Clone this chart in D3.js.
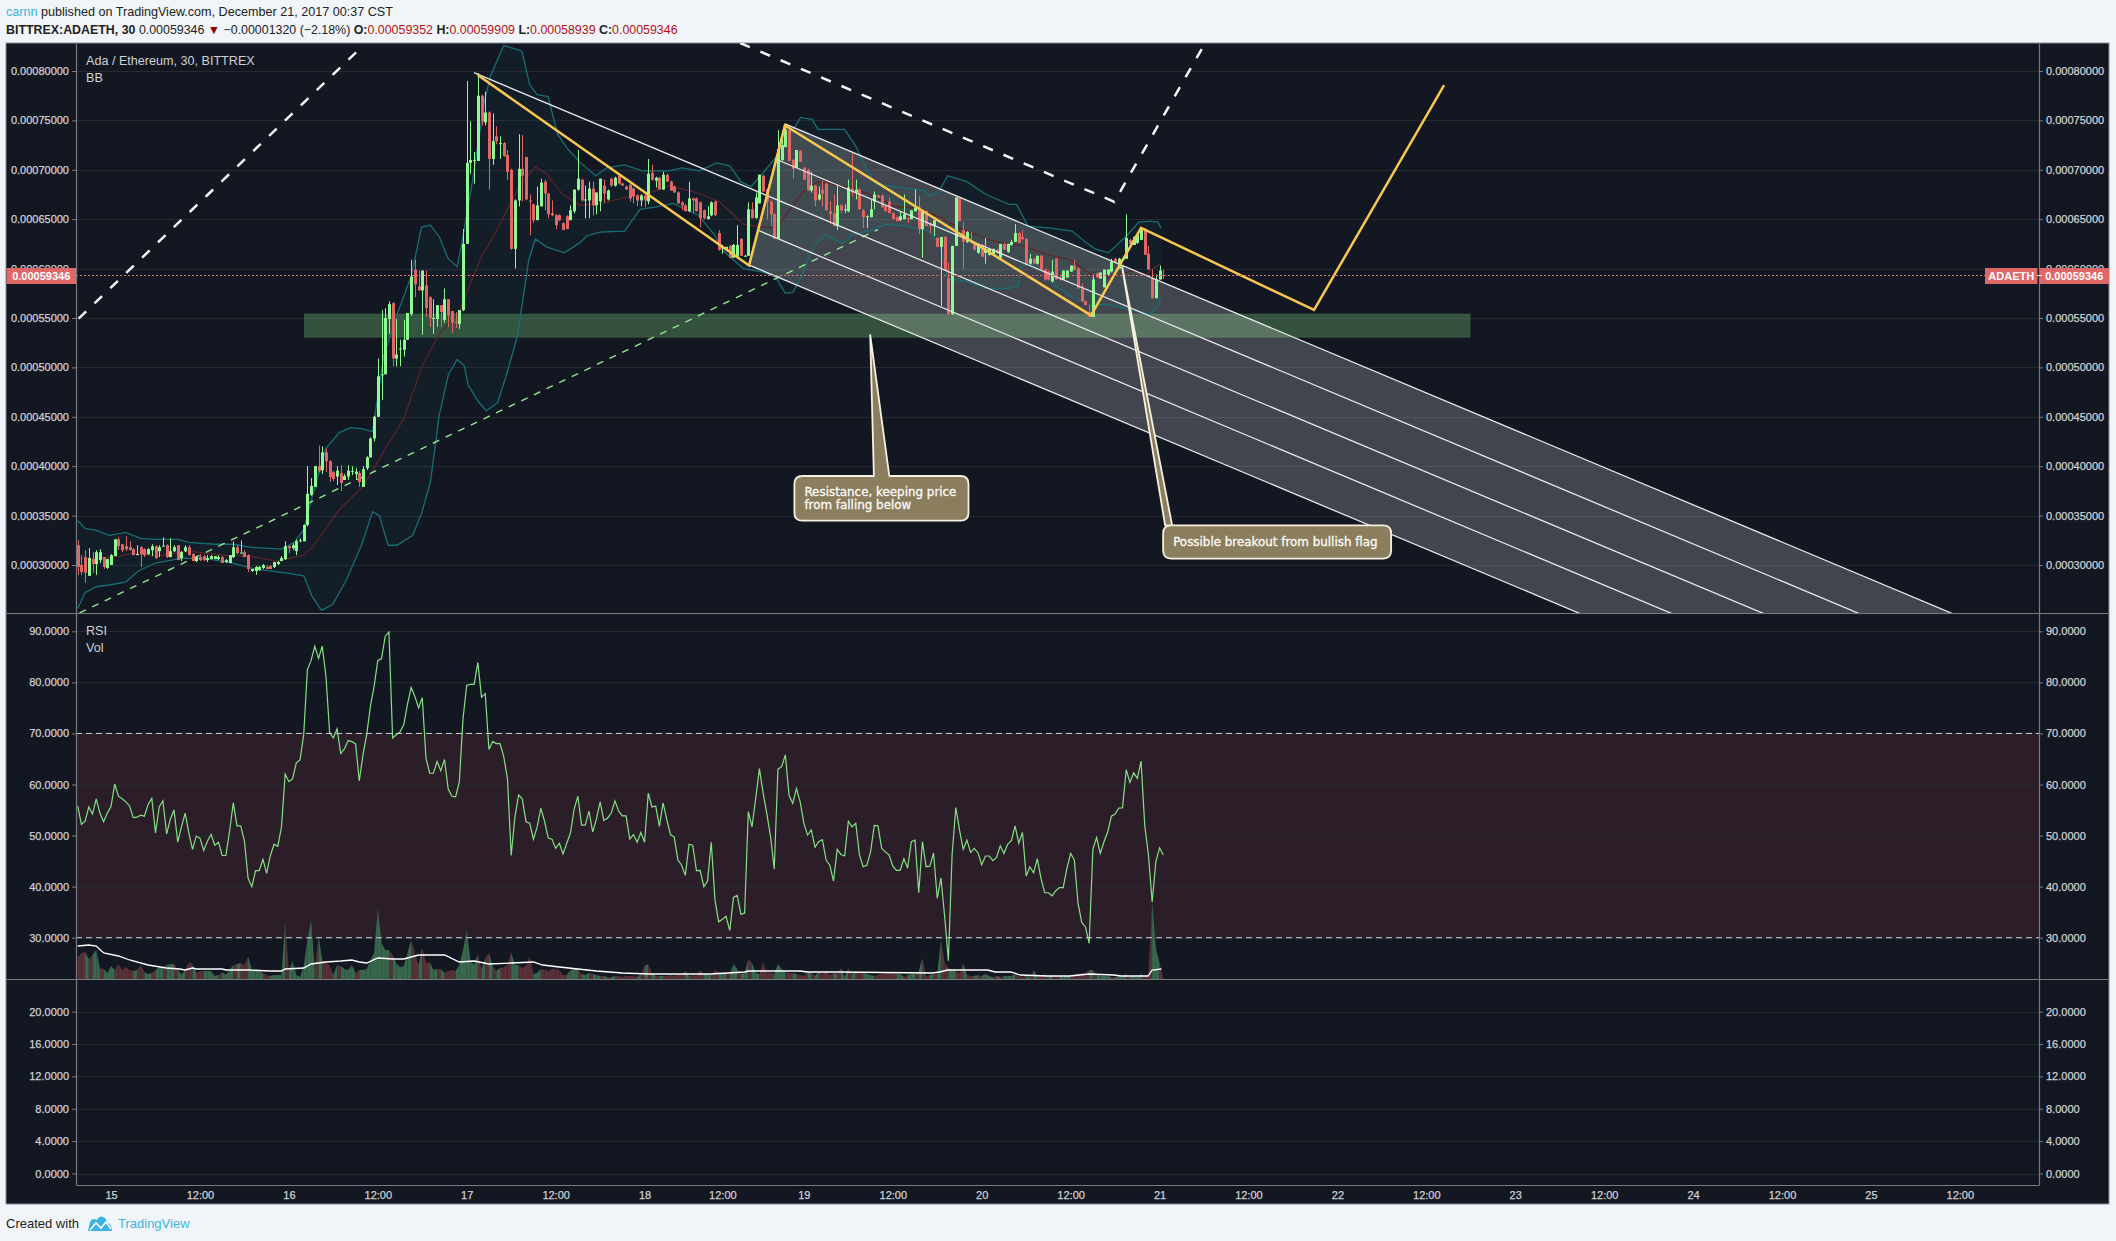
<!DOCTYPE html>
<html><head><meta charset="utf-8">
<script src="https://cdnjs.cloudflare.com/ajax/libs/d3/7.8.5/d3.min.js"></script>
<style>html,body{margin:0;padding:0;background:#f1f5f9;overflow:hidden}svg{display:block}text{font-family:"Liberation Sans",Arial,sans-serif}</style>
</head><body><svg id="c" width="2116" height="1241"></svg>
<script>
// ===== DATA (prices in units of 0.00001 ETH) =====
const priceTicks=[30,35,40,45,50,55,60,65,70,75,80];
const rsiTicks=[30,40,50,60,70,80,90];
const lowerTicks=[0,4,8,12,16,20];
const timeTickBars=[9,33,57,81,105,129,153,174,196,220,244,268,292,316,340,364,388,412,436,460,484,508];
const timeTickLabels=["15","12:00","16","12:00","17","12:00","18","12:00","19","12:00","20","12:00","21","12:00","22","12:00","23","12:00","24","12:00","25","12:00"];
const lastPrice=59.346;
// candles [open, high, low, close]
const barsDec14=[[32.0,32.5,29.0,29.8],[30.0,31.0,29.0,29.3],[30.8,31.5,28.2,29.2],[28.9,31.7,28.9,30.7],[30.6,31.3,29.2,30.1],
[30.1,31.5,29.0,31.3],[30.5,31.6,30.2,31.3],[30.8,30.8,29.6,29.8],[29.7,30.6,29.6,30.6],[30.0,31.1,30.0,31.0]];
const barsDec15=[[30.9,32.6,30.9,32.6],[32.6,32.8,31.5,31.9],[32.1,32.1,31.3,31.5],[31.9,32.9,31.4,31.6],[31.8,32.4,31.5,31.5],
[31.6,31.7,31.0,31.0],[31.0,32.0,31.0,31.1],[31.8,31.9,29.8,31.1],[31.6,31.7,30.8,31.0],[31.1,31.7,31.0,31.6],
[31.5,32.1,30.9,31.9],[31.9,32.0,30.6,30.7],[31.4,32.0,30.8,31.8],[31.9,32.8,31.9,31.95],[32.0,32.1,30.7,30.8],
[30.8,32.7,30.8,31.4],[31.4,32.0,31.3,31.8],[32.0,32.0,30.5,30.5],[30.7,31.4,30.4,31.3],[31.4,32.0,31.3,31.8],
[31.8,32.0,31.0,31.0],[31.1,31.2,30.4,30.4],[30.4,30.9,30.3,30.8],[30.8,31.1,30.4,30.5],[30.9,31.0,30.4,30.5],
[30.5,31.0,30.3,30.7],[30.6,31.0,30.6,30.9],[30.6,30.9,30.6,30.9],[30.6,31.0,30.5,30.8],[30.8,30.9,30.2,30.2],
[30.3,30.6,30.2,30.5],[30.2,31.0,30.2,31.0],[30.8,32.4,30.7,31.8],[31.8,32.0,31.1,31.2],[31.2,32.5,31.2,31.25],
[31.3,31.5,30.8,30.8],[31.0,31.1,29.3,29.6],[29.4,29.6,29.3,29.6],[29.4,29.9,29.0,29.8],[29.5,29.9,29.4,29.8],
[29.7,30.1,29.6,30.0],[29.8,30.0,29.6,29.6],[29.9,30.0,29.6,29.6],[29.8,30.3,29.7,30.3],[30.1,30.4,30.0,30.3],
[30.4,30.9,30.4,30.7],[30.6,32.4,30.5,31.9]];
const barsDec16=[[31.9,32.0,31.2,31.7],[31.7,32.2,31.5,32.0],[31.4,32.6,31.0,32.4],[32.4,32.7,32.3,32.5],[32.4,34.1,32.4,34.05],
[34.05,40.0,33.9,37.2],[37.1,38.8,37.0,38.0],[37.9,40.0,37.9,40.0],[40.0,42.1,39.4,39.5],[39.6,42.0,39.2,41.4],
[41.4,41.8,39.4,40.5],[40.5,40.6,38.4,38.9],[39.4,39.5,38.5,38.7],[38.95,40.0,38.1,39.55],[39.3,40.1,37.5,38.3],
[38.6,39.2,38.6,39.0],[38.95,40.1,38.6,39.55],[39.4,40.0,39.1,39.5],[39.2,39.8,38.6,39.45],[39.3,39.5,37.9,38.4],
[37.9,40.0,37.9,39.7],[39.8,41.0,39.6,40.9],[40.9,42.9,40.9,42.8],[42.8,45.1,42.5,45.0],[45.0,50.9,45.0,49.1],
[49.2,55.8,46.7,49.3],[49.3,56.0,49.3,55.0],[54.9,56.7,53.4,56.4],[56.5,56.6,50.1,50.9],[50.9,54.9,50.1,51.3],
[51.8,52.8,50.1,51.9],[51.8,54.8,51.1,52.8],[52.8,55.5,52.8,55.5],[55.4,60.9,55.2,59.2],[59.9,60.9,57.1,58.4],
[58.2,59.8,57.8,57.8],[57.8,59.8,53.3,59.8],[58.3,59.8,55.1,56.0],[57.1,57.2,54.1,55.0],[55.0,56.9,53.4,55.0],
[54.9,56.3,54.1,56.3],[56.3,56.3,54.1,55.6],[54.8,58.0,54.5,56.9],[56.9,56.9,54.1,55.3],[55.7,55.7,53.5,54.5],
[54.6,55.6,54.0,54.5],[54.4,55.8,53.9,55.8]];
const barsDec17=[[55.8,64.0,55.7,62.5],[62.5,79.0,62.5,70.7],[70.7,74.9,69.6,71.0],[70.9,71.8,68.6,71.0],[70.9,79.8,70.9,77.5],
[77.5,77.6,74.5,74.9],[74.8,77.9,74.5,75.8],[75.8,75.9,68.0,71.1],[71.1,75.7,70.5,72.9],[73.4,74.4,72.6,72.9],
[72.6,73.4,71.1,72.7],[72.7,72.8,71.3,71.4],[71.5,72.0,69.0,69.8],[70.0,70.1,61.9,62.0],[62.0,67.0,60.0,66.9],
[66.9,73.6,66.3,70.1],[70.1,73.5,66.8,69.4],[71.3,71.3,66.9,67.0],[66.9,67.5,63.4,66.8],[66.5,66.6,64.6,64.9],
[64.9,68.3,64.9,66.4],[66.3,69.1,66.3,68.7],[68.8,69.0,65.9,67.6],[67.6,67.6,65.1,65.5],[65.6,66.9,65.3,65.4],
[65.4,65.5,64.0,64.4],[65.4,65.5,64.8,64.9],[64.6,64.7,63.9,63.9],[65.3,65.4,64.0,64.0],[64.9,66.4,64.9,65.9],
[65.8,68.0,65.6,68.0],[68.0,72.0,67.9,69.1],[69.0,69.1,66.8,66.9],[66.9,68.4,65.1,67.0],[66.9,68.8,65.1,68.1],
[68.1,68.8,65.4,66.4],[66.4,67.7,65.5,67.7],[66.8,69.1,65.8,69.1],[68.4,69.0,66.7,67.6],[67.0,68.0,66.9,67.9],
[69.1,69.2,68.3,68.4],[68.4,69.3,68.3,69.2],[69.4,69.5,68.5,68.6],[68.6,68.7,68.4,68.4],[68.3,68.4,68.0,68.0],
[68.5,68.5,66.8,67.1],[68.1,68.2,66.6,67.3],[67.4,67.5,66.3,66.9]];
const barsDec18=[[66.9,67.5,66.3,67.4],[67.4,67.5,66.2,66.9],[66.8,71.1,66.5,69.6],[69.7,70.5,68.9,69.0],[68.9,69.3,68.2,69.2],
[69.2,69.3,68.0,68.0],[68.0,69.8,68.0,69.5],[69.5,69.6,68.8,68.8],[68.8,68.9,67.9,67.9],[68.3,68.4,67.7,67.7],
[67.7,67.8,66.6,66.6],[66.7,66.8,65.9,66.4],[66.4,66.5,65.8,65.8],[65.8,68.8,65.7,67.1],[67.1,67.2,65.6,66.9],
[67.1,67.2,65.8,65.8],[66.7,66.8,64.2,65.1],[65.9,66.0,65.0,65.1],[65.0,66.3,65.0,65.3],[65.4,66.8,65.3,66.7],
[66.8,66.9,65.3,65.4],[63.6,63.9,61.8,61.9],[62.1,62.4,61.5,62.2],[61.9,62.2,61.9,62.2],[62.3,62.4,61.1,61.1],
[61.1,62.5,61.1,62.4],[61.2,64.4,61.2,62.4],[63.0,63.1,61.3,61.3],[61.2,61.4,61.2,61.3],[61.3,66.7,61.3,66.0],
[66.0,66.7,65.1,65.1],[65.1,67.7,65.1,67.2],[66.6,69.5,66.6,69.5],[69.4,69.5,67.8,67.8],[68.0,68.1,65.0,66.8],
[66.8,66.9,64.3,65.5],[65.5,65.6,63.0,63.0],[63.0,74.0,63.0,72.1],[71.0,74.0,70.9,72.5],[72.3,74.4,72.3,74.1],
[74.0,74.5,70.9,70.9],[71.0,71.1,69.1,70.1],[70.2,72.0,70.2,72.0],[71.9,72.0,70.8,70.8],[70.2,70.3,69.0,69.0]];
const barsDec19=[[70.0,70.1,67.9,67.9],[67.9,69.8,67.7,68.4],[68.4,68.5,66.3,66.9],[67.0,68.3,66.9,67.5],[68.0,68.9,66.3,67.6],
[68.6,68.7,65.9,65.9],[65.8,66.8,64.5,65.5],[65.6,67.5,64.3,64.3],[64.3,68.5,63.9,66.4],[66.4,66.5,65.6,65.9],
[65.9,66.5,65.6,66.0],[65.8,69.0,65.7,68.2],[68.1,71.7,67.3,67.7],[67.7,69.0,67.0,68.0],[68.0,68.1,66.0,66.0],
[65.9,66.0,64.1,65.2],[65.2,65.4,64.1,65.3],[65.2,67.0,65.2,66.0],[66.8,67.8,66.0,67.5],[67.4,67.5,67.1,67.2],
[67.4,67.5,66.2,66.2],[66.3,66.4,65.8,65.8],[66.8,67.2,65.6,65.6],[65.6,65.7,65.0,65.0],[65.2,65.3,64.8,64.8],
[64.9,65.8,64.8,65.3],[65.0,67.5,65.0,65.5],[65.1,65.2,64.6,65.0],[65.0,65.9,65.0,65.9],[65.8,68.0,65.8,66.2],
[66.2,67.3,63.5,64.0],[64.0,65.9,61.1,65.8],[65.8,65.9,64.3,64.3],[64.6,64.7,63.6,64.3],[64.3,64.9,63.3,64.9],
[63.1,63.2,62.2,62.2],[62.2,63.2,56.2,63.2],[63.2,63.3,59.8,59.8],[59.0,60.6,55.3,55.4],[55.4,62.3,55.3,62.3],
[62.3,67.2,62.3,67.2],[67.1,67.2,64.8,64.8],[63.9,64.7,60.0,62.7],[62.7,63.8,62.6,63.7]];
const barsDec20=[[62.7,63.7,62.5,62.6],[62.6,62.7,61.9,61.9],[61.6,62.4,61.5,62.4],[62.4,62.5,61.2,61.2],[61.6,63.1,60.5,62.0],
[61.4,62.1,61.3,62.0],[61.4,62.0,61.3,62.0],[61.9,62.0,61.5,61.6],[61.1,62.5,61.0,62.5],[62.5,62.6,61.9,61.9],
[61.7,62.5,61.6,62.5],[62.4,62.9,62.3,62.7],[62.7,64.5,62.7,63.6],[63.6,63.7,62.6,62.6],[63.2,63.9,62.9,63.0],
[63.0,63.1,60.4,60.4],[60.5,61.5,60.4,61.0],[61.0,61.1,60.5,60.5],[60.5,61.3,60.4,61.3],[61.3,61.4,59.9,59.9],
[59.9,60.0,58.8,58.9],[59.7,59.8,58.8,58.9],[58.7,60.9,58.6,59.7],[61.0,61.1,58.9,58.9],[59.1,59.2,58.8,58.9],
[58.9,59.8,58.9,59.8],[59.1,59.8,59.1,59.8],[59.7,60.3,59.7,60.3],[60.3,60.9,59.8,59.9],[60.0,60.1,58.0,58.0],
[58.0,58.5,56.6,56.7],[56.7,56.8,56.3,56.3],[55.6,56.3,55.1,55.1],[55.1,59.4,55.1,58.9],[59.5,59.6,59.1,59.1],
[59.0,59.6,59.0,59.6],[58.1,59.9,58.1,59.9],[59.4,59.9,59.3,59.9],[59.7,61.0,59.6,60.7],[61.0,61.1,60.6,60.6],
[60.0,61.1,60.0,61.0],[61.0,61.1,60.9,61.05],[61.0,65.5,61.0,63.1],[62.9,63.0,62.4,62.5],[62.4,63.3,62.4,63.2],
[62.6,63.6,62.5,63.5],[62.9,64.1,62.9,64.1],[64.0,64.1,61.4,61.4],[61.5,62.3,59.9,59.9],[59.0,59.9,57.0,57.0],
[57.0,59.4,57.0,58.9],[58.9,60.3,58.9,59.8],[59.352,59.909,58.939,59.346]];
// Bollinger band vertices [bar, price]
const bbUpper=[[0,34.5],[2,33.7],[5,33.5],[8.6,33],[13,33.3],[17,32.7],[21,32.6],[27,32.6],[30,32.3],[37,32.1],[42,32.1],[46.5,31.8],[55,31.6],[58.5,32.3],[61,33.6],[63.5,37.2],[67,41.8],[70.6,43.4],[73.6,43.9],[76.6,43.8],[79.6,43.5],[82.6,51.2],[86.8,56],[90,59.2],[92.8,64.2],[95.2,64.4],[97.6,63.2],[100,61],[102.4,60.2],[103.6,62.4],[106.7,69.2],[109.7,76.8],[111.5,79.6],[115,82.6],[119.9,82],[122,78.6],[124,77.6],[127,77.4],[129.5,73.6],[132.5,72],[135.5,70.8],[139.8,69.4],[142.8,70.2],[147.6,70.5],[152.4,69.9],[159.6,69.9],[163,70.2],[167.8,69.9],[172.4,70.7],[176,70.4],[179,68.8],[181.7,68.3],[184.3,69.4],[189,71.5],[195.1,75.3],[198.2,75.1],[199.8,74.1],[207,74.1],[210,72.4],[213.2,69.9],[215.2,68.6],[220.4,68.3],[228.6,67.9],[229.7,67.4],[232.3,67.7],[234.8,69.4],[240,68.8],[245.2,67.5],[251.4,66.5],[253.4,66.5],[256.5,64.3],[262.7,64.1],[268.4,63.8],[272,62.7],[274.6,62],[278.2,61.6],[280.2,62.3],[283.3,63.4],[286.4,64.7],[289.5,64.8],[291.6,64.7],[292.4,64.1]];
const bbLower=[[0,25.6],[2,27.2],[5,27.8],[9,28],[13,28.3],[16.4,29.4],[21,30.2],[28.4,30.7],[35.6,30.6],[41.7,30.2],[47.7,29.6],[56,29.2],[61,28.9],[63.3,26.8],[65.8,25.4],[68.8,26],[72.4,28.4],[76.6,32],[79.6,35.4],[81.4,35],[83.8,32],[86.2,32],[90.4,33],[92.8,35.2],[95.2,38.4],[97.6,45.2],[100,49.2],[102.4,50.8],[104.3,50.2],[105.4,48.2],[108,46.6],[110.3,45.6],[113.3,46.4],[115.7,49.2],[118.7,53.2],[121.7,60.8],[123.5,63],[126.5,62.2],[131.3,61.6],[135.5,62.6],[137.4,63.3],[141,63.7],[147.6,63.8],[151.8,66],[155.4,66.2],[160.8,66.6],[167.5,65.4],[171.9,63.4],[174,61.9],[176.6,61],[179.7,60],[182.8,59.8],[185.4,59.6],[188.4,59.1],[191,57.5],[193,57.6],[195.6,59.4],[198.8,62.3],[201.8,63.4],[206.5,62.5],[209,63.4],[214.2,63.9],[218.3,64.5],[223.5,64.3],[229.7,63.8],[232.8,62.3],[234.8,59],[236.4,58.9],[240,58.7],[245.2,58],[251.4,58],[253.9,58.3],[254.4,60.1],[256.5,60.5],[260.1,60],[263.7,58.3],[268.4,57.1],[274,56.2],[277.1,56.4],[282.3,56],[286.4,55.6],[289.5,55.4],[291.6,56.2],[292.4,57.1]];
const bbMiddle=[[0,30.6],[10,30.8],[15,31.2],[21,30.9],[30,31.4],[39,31],[46.5,30.9],[53.7,30.4],[61,31],[63.3,31.8],[70.6,35.6],[76.6,37.8],[79,39.2],[84.4,42.6],[88,44.8],[92.8,50],[97.6,53.4],[103,55.6],[106.7,59.2],[109,61.2],[112.7,63.6],[116.3,66.2],[119.3,68.4],[123.5,70.3],[126.5,69.6],[130.7,67.6],[135.5,66.4],[141.6,66.6],[147.6,67.2],[153.6,67.6],[159.6,68.4],[167.8,67.6],[173,66.8],[176.6,65.6],[179.7,64.5],[183.3,64.3],[188.4,64.1],[191.5,65.6],[195.6,67.7],[199.8,68.8],[207,68.3],[213.2,67.6],[220.4,66.3],[226.6,66.1],[232.8,65.2],[238,64.1],[245.2,63],[250.3,62.5],[255.5,62.3],[261.7,61.4],[267.9,60.9],[272,59.8],[275.1,59.1],[280.2,59.2],[284.4,59.8],[288.5,59.4],[290.5,60.1],[292.4,60.5]];
// RSI per bar
const rsiValuesA=[55.75,52.2,52.8,55.6,54.2,57.2,54.4,52.7,54.4,55.75,60.1,57.7,57.2,56.6,55.8,53.5,53.6,54.0,53.8,56.1,
57.3,50.5,55.6,56.8,50.3,53.2,55.0,48.7,51.7,54.4,50.5,47.3,49.9,49.5,47.1,48.9,50.2,48.1,48.7,46.1,
46.1,50.9,56.4,51.9,51.9,48.9,41.6,40.0,43.15,43.15,45.35,42.6,46.1,48.3,47.9,51.65,62.05,60.55,61.1,64.25,
64.8,69.75,82.5,84.3,87.1,84.7,87.1,81.2,70.15,69.1,70.9,66.05,67.0,68.6,68.4,67.95,60.7,65.8,69.75,75.3,
79.2,84.3,84.6,89.05,89.85,69.1,69.75,70.3,71.7,75.7,79.0,77.25,75.0,77.0,65.2,62.2,62.2,64.5,62.7,64.9,
59.1,57.7,57.6,60.5,72.9,79.45,79.6,79.6,83.9,77.1,77.8,66.85,68.4,68.0,68.0,65.4,61.1,46.1,53.6,57.95,
57.2,52.7,52.4,49.3,51.65,55.35,52.8,49.5,49.3,47.5,48.5,46.4,48.5,50.5,55.2,57.7,52.05,52.05,54.8,50.7,
53.2,56.6,53.0,53.4,54.4,56.8,54.8,53.85,53.85,49.3,50.2,48.7,50.6,48.7,58.3,55.6,55.8,51.8,56.4,53.1,
50.2,49.7,45.2,44.2,42.2,48.3,48.1,43.15];
const rsiValuesB=[43.2,40.0,41.1,48.7,37.4,33.1,33.6,34.2,31.4,37.9,38.3,34.6,34.8,54.7,51.7,57.3,63.1,58.3,54.3,49.8,43.4,
63.0,63.5,65.8,57.9,56.3,59.2,56.6,52.4,50.1,51.1,47.7,48.8,49.2,45.2,44.2,41.1,47.3,46.3,46.0,52.8,51.7,52.4,46.2,43.9,44.2,
46.8,52.0,51.9,47.5,46.8,46.2,44.0,43.2,43.2,45.5,43.6,48.8,49.1,38.8,48.8,43.9,44.0,46.6,37.7,41.7,34.1,25.5,46.2,55.5,51.1,47.3,
49.1,46.7,47.5,46.6,44.3,46.0,46.0,45.1,45.7,48.0,46.5,48.3,49.0,51.9,48.5,50.6,42.1,43.9,42.7,45.5,41.6,38.8,38.8,38.2,39.2,39.8,39.8,
43.6,46.5,45.2,36.7,33.0,32.1,28.9,47.3,49.6,46.5,48.8,50.7,53.8,54.2,55.4,55.4,62.9,60.4,62.3,61.2,64.6,52.0,46.2,37.0,44.9,47.6,46.2];
// Volume per bar (estimated, relative units)
const volumeA=[22,26,27,20,24,29,11,10,6,13,9,15,9,12,9,8,9,14,7,5,6,9,12,12,14,15,15,10,4,9,17,15,6,8,8,8,8,3,4,7,
4,9,14,15,16,14,23,9,10,8,6,4,3,4,4,4,58,8,18,4,2,13,39,59,9,44,19,16,14,4,14,13,10,9,14,6,9,9,10,19,
26,71,36,29,29,24,16,12,13,26,39,26,14,31,16,17,9,10,10,6,8,9,8,14,29,49,18,14,25,10,21,26,13,8,11,12,14,27,14,14,
11,13,23,5,6,10,9,8,10,10,9,4,4,9,10,10,5,4,6,5];
const volumeB=[4,3,3,2,2,3,3,2,3,3,3,2,5,13,15,6,3,3,3,3,4,3,5,4,8,3,4,3];
const volumeC=[9,5,4,4,9,7,5,6,5,15,10,5,6,20,16,6,5,17,6,7,5,15,10,7,6,6,5,4,3,8,6,3,7,5,8,4,6,5,11,2,11,5,7,6,6,5,4,3,4,5,6,6,6,5,5,2,4,5,
5,8,21,3,4,5,5,40,16,11,9,8,6,16,4,3,3,4,3,5,3,2,3,2,3,3,3,5,3,2,4,2,9,3,3,5,3,4,2,3,2,3,3,5,5,6,6,9,9,5,3,3,3,2,2,3,3,5,2,3,2,5,3,5,79,31,16,1];
const volumeAvg=[[0,33],[3,34],[5,33],[7,26],[11,23],[14,19],[19,14],[24,11],[27.5,10],[29,9],[31,11],[32,10],[39,10],[40,9],[46,9],[52,8],[55,8],[56,10],[61,11],[63,15],[67,17],[71,18],[74,19],[76,17],[78,16],[81,21],[85,20],[88,20],[92,24],[99,24],[103,17],[107,18],[111,15],[117,16],[123,17],[125.5,14],[130,12],[135,10],[140,8],[147,6],[154.3,5],[170.8,5],[180,7],[181,8],[195,8],[197,7],[205,7],[230.6,6],[232.7,7],[234.8,9],[245.6,9],[247.6,7],[251.8,7],[254.4,4],[261.6,3],[267.8,3],[273,5],[279.6,4],[281.7,3],[288.9,3],[290,9],[292.5,10]];
// Drawings, anchored on [bar, price]
const resistanceZone={bars:[61.2,375.8],prices:[55.4,53.05]};
const yellowPath=[[107.96,79.6],[181.2,60.32],[190.9,74.5],[273.5,55.26],[287,64.12],[333.7,55.81],[368.8,78.58]];
const whiteDashA=[[0.24,54.94],[77.3,82.66]];
const whiteDashB=[[178.8,82.83],[279.8,66.76],[304.3,82.83]];
const supportDash=[[0.5,25.15],[216,63.95]];
const forkLines=[[[190.9,74.64],[530,21.31]],[[188.5,71.07],[530,17.35]],[[106.95,79.83],[530,13.3]],[[183.6,63.88],[530,9.4]],[[181.2,60.36],[530,5.5]]];
const forkHandle=[[190.9,74.64],[181.2,60.36]];
const calloutTips=[[213.9,53.28],[281.9,60.16]];
const calloutTexts=[["Resistance, keeping price","from falling below"],["Possible breakout from bullish flag"]];

// ===== LAYOUT =====
const L=76,R=2039,PL=6,PR=2109,T=43,B1=613,B2=979,B3=1185,PB=1204;
const bars=[].concat(barsDec14,barsDec15,barsDec16,barsDec17,barsDec18,barsDec19,barsDec20);
const rsi=rsiValuesA.concat(rsiValuesB), vol=volumeA.concat(volumeB,volumeC);
const x=d3.scaleLinear().domain([0,293]).range([77.7,77.7+293*3.705]);
const y=d3.scaleLinear().domain([30,80]).range([565,71]);
const yR=d3.scaleLinear().domain([30,90]).range([937.7,631.3]);
const yL=d3.scaleLinear().domain([0,20]).range([1173.5,1011.6]);
const yV=d3.scaleLinear().domain([0,100]).range([979,879]);
const svg=d3.select("#c");
const defs=svg.append("defs");
const clip=(id,a,b)=>defs.append("clipPath").attr("id",id).append("rect").attr("x",L).attr("y",a).attr("width",R-L).attr("height",b-a);
clip("p1",T,B1);clip("p2",B1,B2);
const AX="#787b80",GRID="#252932",TXT="#cfd1d4";

svg.append("rect").attr("x",PL).attr("y",T).attr("width",PR-PL).attr("height",PB-T).attr("fill","#131722").attr("stroke","#8a8d92").attr("stroke-width",1);

function grid(ticks,sc){svg.append("g").selectAll("line").data(ticks).join("line").attr("x1",L).attr("x2",R)
 .attr("y1",d=>Math.round(sc(d))+.5).attr("y2",d=>Math.round(sc(d))+.5).attr("stroke",GRID);}
grid(priceTicks,y);grid(rsiTicks,yR);grid(lowerTicks,yL);

// --- pane 1
const p1=svg.append("g").attr("clip-path","url(#p1)");
const pt=d3.line().x(d=>x(d[0])).y(d=>y(d[1]));
const zone=p1.append("rect").attr("x",x(resistanceZone.bars[0])).attr("width",x(resistanceZone.bars[1])-x(resistanceZone.bars[0]))
 .attr("y",y(resistanceZone.prices[0])).attr("height",y(resistanceZone.prices[1])-y(resistanceZone.prices[0]))
 .attr("fill","rgba(100,170,100,.4)").attr("stroke","rgba(100,170,100,.25)");
p1.append("path").attr("d",pt([forkLines[0][0],forkLines[0][1],forkLines[4][1],forkLines[4][0]])+"Z").attr("fill","rgba(255,255,255,.2)");
p1.append("path").attr("d",pt(bbUpper.concat(bbLower.slice().reverse()))+"Z").attr("fill","rgba(38,166,154,.055)");
p1.append("path").attr("d",pt(bbMiddle)).attr("fill","none").attr("stroke","#5f2528").attr("stroke-width",1.2);
[bbUpper,bbLower].forEach(b=>p1.append("path").attr("d",pt(b)).attr("fill","none").attr("stroke","#176f75").attr("stroke-width",1.3));
p1.append("path").attr("d",pt(supportDash)).attr("fill","none").attr("stroke","#8fe88f").attr("stroke-width",1.4).attr("stroke-dasharray","7 7");

const GREEN="#8efa92",RED="#e36666";
const cg=p1.append("g").selectAll("g").data(bars).join("g");
const cx=(d,i)=>Math.round(x(i));
cg.append("line").attr("x1",(d,i)=>cx(d,i)+.5).attr("x2",(d,i)=>cx(d,i)+.5).attr("y1",d=>y(d[1])).attr("y2",d=>y(d[2]))
 .attr("stroke",d=>d[3]>=d[0]?GREEN:RED);
cg.append("rect").attr("x",(d,i)=>cx(d,i)-1).attr("width",3)
 .attr("y",d=>y(Math.max(d[0],d[3]))).attr("height",d=>Math.max(1,Math.abs(y(d[0])-y(d[3]))))
 .attr("fill",d=>d[3]>=d[0]?GREEN:RED);

forkLines.forEach(f=>p1.append("path").attr("d",pt(f)).attr("fill","none").attr("stroke","#e6e7ea").attr("stroke-width",1.3));
p1.append("path").attr("d",pt(forkHandle)).attr("fill","none").attr("stroke","#d9dadd").attr("stroke-width",1.3);
[whiteDashA,whiteDashB].forEach(d=>p1.append("path").attr("d",pt(d)).attr("fill","none").attr("stroke","#f4f4f4").attr("stroke-width",2.5).attr("stroke-dasharray","10.5 11.5"));
p1.append("path").attr("d",pt(yellowPath)).attr("fill","none").attr("stroke","#f7c74f").attr("stroke-width",2.5);

// price line
const yp=Math.round(y(lastPrice))+.5;
svg.append("line").attr("x1",L).attr("x2",1985).attr("y1",yp).attr("y2",yp).attr("stroke","#e57373").attr("stroke-dasharray","2 2");

// callouts
const calloutBoxes=[{dx0:-75.8,dx1:98.3,dy0:141,dy1:185.7,t0:3.7,t1:19.1},{dx0:41,dx1:269,dy0:258.4,dy1:291.6,t0:43,t1:50}];
calloutTips.forEach((t,k)=>{
 const X=x(t[0]),Y=y(t[1]),b=calloutBoxes[k],r=8;
 const x0=X+b.dx0,x1=X+b.dx1,y0=Y+b.dy0,y1=Y+b.dy1;
 const d=`M${X},${Y}L${X+b.t1},${y0}L${x1-r},${y0}Q${x1},${y0} ${x1},${y0+r}L${x1},${y1-r}Q${x1},${y1} ${x1-r},${y1}L${x0+r},${y1}Q${x0},${y1} ${x0},${y1-r}L${x0},${y0+r}Q${x0},${y0} ${x0+r},${y0}L${X+b.t0},${y0}Z`;
 svg.append("path").attr("d",d).attr("fill","#8a7e5e").attr("stroke","#f5f0df").attr("stroke-width",1.8).attr("stroke-linejoin","round");
 const mid=(y0+y1)/2, lh=12.5, n=calloutTexts[k].length;
 calloutTexts[k].forEach((s,j)=>svg.append("text").text(s).attr("x",x0+10).attr("y",mid+(j-(n-1)/2)*lh+4)
   .attr("fill","#fdfcf8").attr("stroke","#fdfcf8").attr("stroke-width",.3).style("font-family","'DejaVu Sans'").style("font-size","11.9px"));
});

// --- pane 2
svg.append("rect").attr("x",L).attr("width",R-L).attr("y",yR(70)).attr("height",yR(30)-yR(70)).attr("fill","rgba(255,100,110,.1)");
grid([40,50,60],yR);
const p2=svg.append("g").attr("clip-path","url(#p2)");
vol.forEach((v,i)=>{ if(i>=vol.length-1) return;
 const up=bars[i+1][3]>=bars[i+1][0];
 const a=d3.area().x(d=>x(d[0])).y0(yV(0)).y1(d=>yV(d[1]));
 p2.append("path").attr("d",a([[i,v],[i+1,vol[i+1]]])).attr("fill",up?"#3b6b50":"#5c3139").attr("opacity",.95);
});
p2.append("path").attr("d",d3.line().x(d=>x(d[0])).y(d=>yV(d[1]))(volumeAvg)).attr("fill","none").attr("stroke","#fff").attr("stroke-width",1.3);
[70,30].forEach(v=>svg.append("line").attr("x1",L).attr("x2",R).attr("y1",yR(v)).attr("y2",yR(v)).attr("stroke","#cfd0d2").attr("stroke-width",1).attr("stroke-dasharray","6 4"));
p2.append("path").attr("d",d3.line().x((d,i)=>x(i)).y(d=>yR(d))(rsi)).attr("fill","none").attr("stroke","#84e084").attr("stroke-width",1.2);

// frames
[[L,T,L,B3],[R,T,R,B3],[PL,B1,PR,B1],[PL,B2,PR,B2],[L,B3,R,B3]].forEach(l=>svg.append("line").attr("x1",l[0]+.5).attr("y1",l[1]+.5).attr("x2",l[2]+.5).attr("y2",l[3]+.5).attr("stroke",AX).attr("stroke-width",1.2));

// axes
function styleAxis(g){g.select(".domain").remove();g.selectAll("line").attr("stroke",AX);
 g.selectAll("text").attr("fill",TXT).attr("stroke",TXT).attr("stroke-width",.25).style("font-family","'Liberation Sans'").style("font-size","11px");}
function both(sc,ticks,fmt){
 svg.append("g").attr("transform",`translate(${L},0)`).call(d3.axisLeft(sc).tickValues(ticks).tickFormat(fmt).tickSize(4).tickPadding(3)).call(styleAxis);
 svg.append("g").attr("transform",`translate(${R},0)`).call(d3.axisRight(sc).tickValues(ticks).tickFormat(fmt).tickSize(4).tickPadding(3)).call(styleAxis);
}
both(y,priceTicks,d=>(d*1e-5).toFixed(8));
both(yR,rsiTicks,d=>d.toFixed(4));
both(yL,lowerTicks,d=>d.toFixed(4));
svg.append("g").attr("transform",`translate(0,${B3})`).call(d3.axisBottom(x).tickValues(timeTickBars).tickFormat((d,i)=>timeTickLabels[i]).tickSize(0).tickPadding(6)).call(styleAxis);

// last price labels
const lbl=(x0,w,s)=>{svg.append("rect").attr("x",x0).attr("y",268).attr("width",w).attr("height",16).attr("fill","#e06767");
 svg.append("text").text(s).attr("x",x0+w/2).attr("y",280).attr("text-anchor","middle").attr("fill","#fff").style("font-size","11px").style("font-weight","700");};
lbl(6.5,69.5,(lastPrice*1e-5).toFixed(8));lbl(1985,52.5,"ADAETH");lbl(2039.5,69.5,(lastPrice*1e-5).toFixed(8));
svg.append("line").attr("x1",2037).attr("x2",2042).attr("y1",yp).attr("y2",yp).attr("stroke","#fff");

// pane titles
const tl=(s,xx,yy)=>svg.append("text").text(s).attr("x",xx).attr("y",yy).attr("fill",TXT).style("font-size","12.6px");
tl("Ada / Ethereum, 30, BITTREX",86,65);tl("BB",86,82);tl("RSI",86,635);tl("Vol",86,652);

// header
const h1=svg.append("text").attr("x",6).attr("y",16).style("font-size","12.6px").attr("fill","#222");
h1.append("tspan").text("carnn").attr("fill","#3bb3e4");
h1.append("tspan").text(" published on TradingView.com, December 21, 2017 00:37 CST");
const h2=svg.append("text").attr("x",6).attr("y",34).style("font-size","12.4px").attr("fill","#222");
h2.append("tspan").text("BITTREX:ADAETH, 30").style("font-weight","700");
h2.append("tspan").text(" 0.00059346 ");
h2.append("tspan").text("\u25BC").attr("fill","#8e0000");
h2.append("tspan").text(" \u22120.00001320 (\u22122.18%) ");
[["O:","0.00059352"],["H:","0.00059909"],["L:","0.00058939"],["C:","0.00059346"]].forEach(p=>{
 h2.append("tspan").text(p[0]).style("font-weight","700");
 h2.append("tspan").text(p[1]+" ").attr("fill","#b31313");
});
// footer
svg.append("text").text("Created with").attr("x",6).attr("y",1228).attr("fill","#222").style("font-size","13px");
svg.append("path").attr("d","M88,1231L90,1222Q92,1217 97,1220Q100,1214 105,1218L108,1223Q112,1225 112,1231Z").attr("fill","#3bb3e4");
svg.append("path").attr("d","M90,1230L96,1223L101,1228L106,1222L111,1229").attr("fill","none").attr("stroke","#fff").attr("stroke-width",1.6);
svg.append("text").text("TradingView").attr("x",118).attr("y",1228).attr("fill","#3bb3e4").style("font-size","13px");
</script></body></html>
